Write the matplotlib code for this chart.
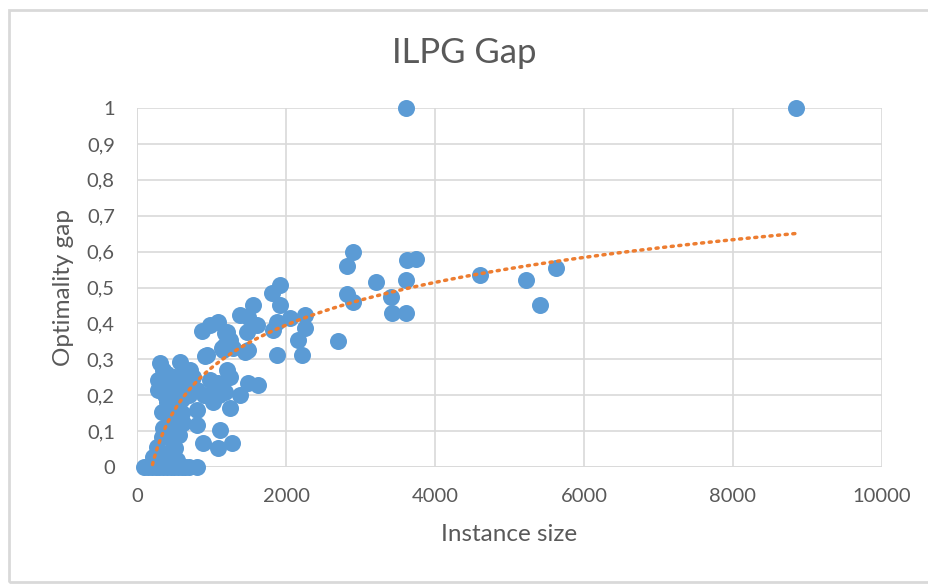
import numpy as np
import matplotlib
matplotlib.use("Agg")
import matplotlib.pyplot as plt
from matplotlib.patches import Rectangle

# instance size / optimality gap
size = [100, 150, 200, 250, 300, 350, 400, 450, 500, 550, 600, 650, 700, 800,
        215, 268, 335, 350, 335, 483, 510, 537, 483, 617, 805, 805, 886, 1114,
        1087, 1275, 1248, 420, 450, 400, 520, 600, 430, 500, 560, 450,
        309, 577, 711, 282, 282, 443, 443, 617, 805, 980, 1087, 1020, 940, 1208,
        1248, 1383, 1490, 1624, 913, 350, 400, 500, 550, 650, 700, 380, 600, 750,
        900, 1100, 1050, 1180,
        1141, 1181, 1490, 872, 980, 1087, 1181, 1208, 1248, 1154, 1289, 1450,
        1383, 1557, 1490, 1611, 1477, 1812, 1920, 1920, 1879, 1826, 2054, 2255,
        2255, 2161, 2215, 1879,
        2698, 2819, 2899, 2819, 2899, 3208, 3409, 3423, 3611, 3611, 3624, 3745,
        4604, 5221, 5409, 5624, 3611, 8846]
gap = [0, 0, 0, 0, 0, 0, 0, 0, 0, 0, 0, 0, 0, 0,
       0.028, 0.056, 0.084, 0.11, 0.153, 0.075, 0.053, 0.02, 0.103, 0.122, 0.117, 0.159, 0.067, 0.103,
       0.053, 0.067, 0.164, 0.03, 0.13, 0.18, 0.16, 0.15, 0.14, 0.12, 0.09, 0.045,
       0.29, 0.293, 0.27, 0.242, 0.214, 0.242, 0.206, 0.22, 0.214, 0.242, 0.234, 0.18, 0.312, 0.27,
       0.25, 0.2, 0.234, 0.228, 0.309, 0.27, 0.26, 0.25, 0.23, 0.26, 0.2, 0.2, 0.19, 0.25,
       0.2, 0.2, 0.22, 0.21,
       0.331, 0.34, 0.326, 0.38, 0.396, 0.404, 0.373, 0.376, 0.354, 0.326, 0.331, 0.32,
       0.423, 0.451, 0.418, 0.396, 0.376, 0.485, 0.507, 0.451, 0.404, 0.382, 0.415, 0.423,
       0.387, 0.354, 0.312, 0.312,
       0.351, 0.56, 0.599, 0.482, 0.46, 0.515, 0.474, 0.429, 0.52, 0.43, 0.577, 0.58,
       0.535, 0.52, 0.451, 0.554, 1.0, 1.0]

# log trendline coefficients as shown in the chart: y = a*ln(x) + b
trend_a = 0.1716
trend_b = -0.909

x_ticks = [0, 2000, 4000, 6000, 8000, 10000]
y_ticks = [0, 0.1, 0.2, 0.3, 0.4, 0.5, 0.6, 0.7, 0.8, 0.9, 1]

plt.rcParams['font.family'] = ['Lato', 'DejaVu Sans']

fig = plt.figure(figsize=(9.29, 5.84), dpi=100)
ax = fig.add_axes([137/929, 1 - 467/584, 745/929, 359/584])

x = np.array(size, dtype=float)
y = np.array(gap, dtype=float)

ax.scatter(x, y, s=150, color='#5B9BD5', zorder=3, clip_on=False, linewidths=0)

tx = np.linspace(x.min(), x.max(), 400)
ax.plot(tx, trend_a*np.log(tx) + trend_b, color='#ED7D31', lw=2.5, linestyle=(0, (0.6, 1.6)),
        dash_capstyle='round', zorder=4)

ax.set_xlim(0, 10000)
ax.set_ylim(0, 1)
ax.set_xticks(x_ticks)
ax.set_yticks(y_ticks)
ax.set_yticklabels([('%g' % v).replace('.', ',') for v in y_ticks])
ax.tick_params(length=0, labelsize=14.5, colors='#595959')
ax.tick_params(axis='x', pad=15)
ax.tick_params(axis='y', pad=16)
ax.grid(True, color='#d9d9d9', lw=1.2)
ax.set_axisbelow(True)
for s in ax.spines.values():
    s.set_visible(False)
ax.axhline(0, color='#d9d9d9', lw=1.2, zorder=1)
ax.axvline(0, color='#d9d9d9', lw=1.2, zorder=1)

ax.set_xlabel('Instance size', fontsize=17.5, color='#595959', labelpad=14)
ax.set_ylabel('Optimality gap', fontsize=17.5, color='#595959', labelpad=9)
fig.text(0.5, 1 - 53/584, 'ILPG Gap', ha='center', va='center', fontsize=25, color='#595959')

fig.patches.append(Rectangle((9/929, 2/584), 1, 572/584, transform=fig.transFigure,
                             fill=False, edgecolor='#d9d9d9', lw=2))

fig.savefig('out.png', dpi=100)
